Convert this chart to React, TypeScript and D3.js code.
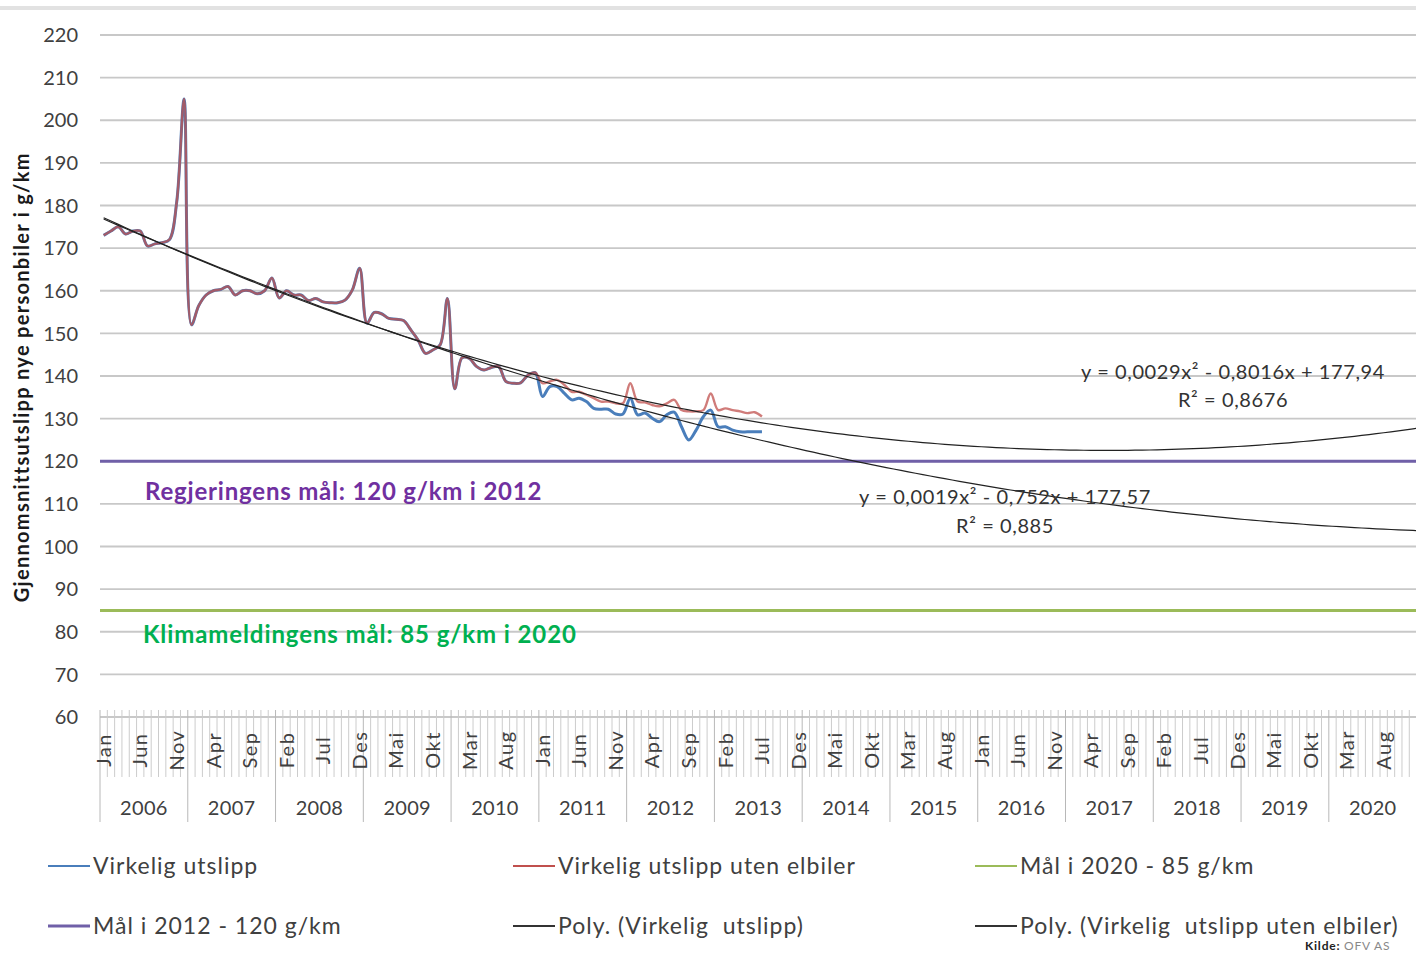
import React from "react";
import * as d3 from "d3";

// ---- data ----
const monthNames = ["Jan", "Feb", "Mar", "Apr", "Mai", "Jun", "Jul", "Aug", "Sep", "Okt", "Nov", "Des"];
const years = [2006, 2007, 2008, 2009, 2010, 2011, 2012, 2013, 2014, 2015, 2016, 2017, 2018, 2019, 2020];
const yTicks = [60, 70, 80, 90, 100, 110, 120, 130, 140, 150, 160, 170, 180, 190, 200, 210, 220];

// Jan 2006 – Dec 2010 (both series identical)
const common2006to2010 = [
  173, 174, 175, 173.3, 174, 174, 170.5, 171, 171.3, 172, 181, 205,
  152, 156.5, 159, 160, 160.3, 161, 159, 160, 160, 159.3, 160, 163,
  158.3, 160, 159, 159, 157.7, 158.2, 157.4, 157.2, 157.2, 157.8, 160.2, 165.3,
  152.4, 154.9, 154.6, 153.5, 153.3, 153, 150.8, 148.4, 145.3, 146.1, 147.3, 158.2,
  137, 144.3, 144.1, 142.2, 141.4, 142, 142.2, 138.7, 138.3, 138.4, 140.2, 140.8,
];
// Jan 2011 – Jul 2013
const virkeligLate = [
  135.2, 137.5, 137.5, 135.9, 134.4, 134.8, 134, 132.4, 132.2, 132.2, 131.1, 131.1,
  134.8, 130.9, 131.3, 130.1, 129.3, 130.9, 131.5, 128.1, 125, 127.3, 130.5, 132,
  128.1, 128.1, 127.3, 126.9, 126.9, 126.9, 126.9,
];
const utenElbilerLate = [
  138.3, 138.7, 139.1, 137.9, 136.3, 136.3, 135.6, 134.8, 134, 134, 133.6, 133.6,
  138.3, 134, 133.8, 133.2, 132.9, 133.6, 134.4, 132, 131.7, 131.7, 132, 135.9,
  132, 132.4, 132, 131.7, 131.3, 131.5, 130.5,
];
const virkelig = [...common2006to2010, ...virkeligLate];
const utenElbiler = [...common2006to2010, ...utenElbilerLate];

// trendline coefficients (from the chart labels)
const polyVirkelig = [0.0019, -0.752, 177.57];
const polyUten = [0.0029, -0.8016, 177.94];
const goal2012 = 120;
const goal2020 = 85;

const legendItems = [
  { label: "Virkelig utslipp", color: "#4a7ebb" },
  { label: "Virkelig utslipp uten elbiler", color: "#c0504d" },
  { label: "Mål i 2020 - 85 g/km", color: "#9bbb59" },
  { label: "Mål i 2012 - 120 g/km", color: "#7060a8" },
  { label: "Poly. (Virkelig  utslipp)", color: "#333333" },
  { label: "Poly. (Virkelig  utslipp uten elbiler)", color: "#333333" },
];

const FONT = "Lato, 'Open Sans', sans-serif";
const TXT = "#404040";

export default function App() {
  const W = 1416, H = 955;
  const nMonths = years.length * 12;
  const x = d3.scaleLinear().domain([0, nMonths]).range([100, 1416.6]);
  const y = d3.scaleLinear().domain([60, 220]).range([717, 35]);

  const dataLine = d3
    .line<number>()
    .x((_, i) => x(i + 0.5))
    .y((d) => y(d))
    .curve(d3.curveCatmullRom.alpha(0.5));

  const trendPts = (c: number[]) =>
    d3.range(1, nMonths + 2).map((k) => [x(k - 0.5), y(c[0] * k * k + c[1] * k + c[2])] as [number, number]);
  const trendLine = d3.line<[number, number]>().curve(d3.curveLinear);

  const months = d3.range(nMonths);
  const boundaries = d3.range(nMonths + 1);

  const legendCols = [48, 513, 975];
  const legendRows = [866, 926];

  return (
    <svg width={W} height={H} style={{ position: "absolute", left: 0, top: 0, background: "#fff" }} fontFamily={FONT}>
      <rect width={W} height={H} fill="#fff" />
      <line x1={0} x2={W} y1={8} y2={8} stroke="#e2e2e2" strokeWidth={4} />

      {/* horizontal gridlines */}
      {yTicks.map((t) => (
        <g key={t}>
          <line x1={100} x2={W} y1={y(t)} y2={y(t)} stroke="#c8c8c8" strokeWidth={1.8} />
          <text x={78} y={y(t)} dy="0.36em" textAnchor="end" fontSize={20} fill={TXT}>
            {t}
          </text>
        </g>
      ))}

      {/* x axis: month boundaries and year boundaries */}
      {boundaries.map((b) => (
        <line
          key={b}
          x1={x(b)}
          x2={x(b)}
          y1={710}
          y2={b % 12 === 0 ? 822 : 777}
          stroke={b % 12 === 0 ? "#b8b8b8" : "#cccccc"}
          strokeWidth={1}
        />
      ))}
      {months
        .filter((m) => m % 5 === 0)
        .map((m) => (
          <text
            key={m}
            transform={`translate(${x(m + 0.5)},750) rotate(-90)`}
            textAnchor="middle"
            dy="0.36em"
            fontSize={20}
            letterSpacing={1.5}
            fill={TXT}
          >
            {monthNames[m % 12]}
          </text>
        ))}
      {years.map((yr, i) => (
        <text key={yr} x={x(i * 12 + 6)} y={808} dy="0.36em" textAnchor="middle" fontSize={20} letterSpacing={0.3} fill={TXT}>
          {yr}
        </text>
      ))}

      {/* goal lines */}
      <line x1={100} x2={W} y1={y(goal2012)} y2={y(goal2012)} stroke="#7060a8" strokeWidth={3} />
      <line x1={100} x2={W} y1={y(goal2020)} y2={y(goal2020)} stroke="#9bbb59" strokeWidth={3} />
      <text x={145} y={y(113)} dy="0.36em" fontSize={24} letterSpacing={0.8} fontWeight="bold" fill="#7030a0">
        Regjeringens mål: 120 g/km i 2012
      </text>
      <text x={143} y={y(79.4)} dy="0.36em" fontSize={24} letterSpacing={0.9} fontWeight="bold" fill="#00b050">
        Klimameldingens mål: 85 g/km i 2020
      </text>

      {/* data series */}
      <path d={dataLine(virkelig) || ""} fill="none" stroke="#4a7ebb" strokeWidth={3} strokeLinejoin="round" />
      <path
        d={dataLine(utenElbiler) || ""}
        fill="none"
        stroke="#c0504d"
        strokeOpacity={0.75}
        strokeWidth={2.4}
        strokeLinejoin="round"
      />

      {/* trendlines */}
      <path d={trendLine(trendPts(polyVirkelig)) || ""} fill="none" stroke="#222" strokeWidth={1.2} />
      <path d={trendLine(trendPts(polyUten)) || ""} fill="none" stroke="#222" strokeWidth={1.2} />

      {/* trendline labels */}
      <g fontSize={20} letterSpacing={0.6} fill="#333" textAnchor="middle">
        <text x={1233} y={372} dy="0.36em">y = 0,0029x² - 0,8016x + 177,94</text>
        <text x={1233} y={400} dy="0.36em">R² = 0,8676</text>
        <text x={1005} y={497} dy="0.36em">y = 0,0019x² - 0,752x + 177,57</text>
        <text x={1005} y={526} dy="0.36em">R² = 0,885</text>
      </g>

      {/* y axis title */}
      <text
        transform={`translate(22,${y(139.7)}) rotate(-90)`}
        textAnchor="middle"
        dy="0.36em"
        fontSize={20}
        letterSpacing={1.3}
        fontWeight="bold"
        fill="#1a1a1a"
      >
        Gjennomsnittsutslipp nye personbiler i g/km
      </text>

      {/* legend */}
      {legendItems.map((it, i) => {
        const cx = legendCols[i % 3];
        const cy = legendRows[Math.floor(i / 3)];
        return (
          <g key={it.label}>
            <line x1={cx} x2={cx + 42} y1={cy} y2={cy} stroke={it.color} strokeWidth={i === 3 ? 3 : 2} />
            <text x={cx + 45} y={cy} dy="0.36em" fontSize={23} letterSpacing={1} fill={TXT} style={{ whiteSpace: "pre" }}>
              {it.label}
            </text>
          </g>
        );
      })}
      <text x={1305} y={950} fontSize={12} letterSpacing={0.8}>
        <tspan fontWeight="bold" fill="#222">Kilde: </tspan>
        <tspan fill="#888">OFV AS</tspan>
      </text>
    </svg>
  );
}
